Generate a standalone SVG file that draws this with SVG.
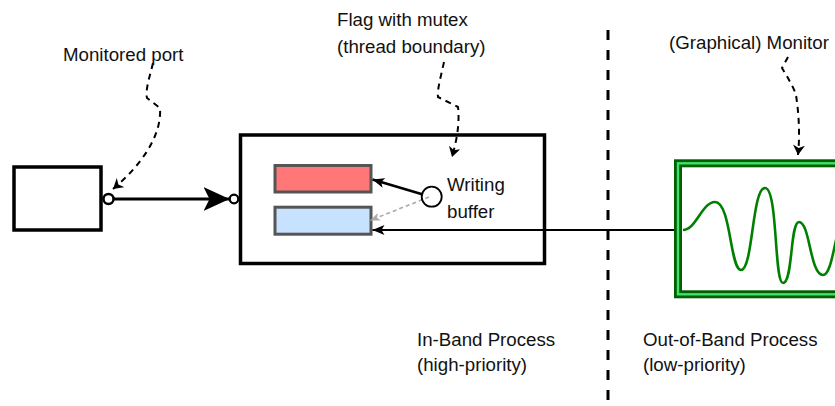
<svg xmlns="http://www.w3.org/2000/svg" width="835" height="406" viewBox="0 0 835 406">
<style>
text{font-family:"Liberation Sans",Arial,sans-serif;font-size:18.7px;fill:#111}
.box{fill:#fff;stroke:#000;stroke-width:3.5}
.buf{stroke:#555;stroke-width:3}
.callout{fill:none;stroke:#000;stroke-width:2;stroke-dasharray:6 5}
</style>
<defs>
<marker id="notch" viewBox="0 0 26 24" refX="26" refY="12" markerWidth="26" markerHeight="24" markerUnits="userSpaceOnUse" orient="auto">
<path d="M0,0 L26,12 L0,24 L6,12 Z" fill="#000"/>
</marker>
<marker id="sm" viewBox="0 0 12 10" refX="12" refY="5" markerWidth="12" markerHeight="10" markerUnits="userSpaceOnUse" orient="auto">
<path d="M0,0 L12,5 L0,10 L3,5 Z" fill="#000"/>
</marker>
<marker id="smg" viewBox="0 0 10 8" refX="10" refY="4" markerWidth="10" markerHeight="8" markerUnits="userSpaceOnUse" orient="auto">
<path d="M0,0 L10,4 L0,8 L2.5,4 Z" fill="#aaa"/>
</marker>
<marker id="co" viewBox="0 0 10 12" refX="10" refY="6" markerWidth="10" markerHeight="12" markerUnits="userSpaceOnUse" orient="auto">
<path d="M0,0 L10,6 L0,12 L3,6 Z" fill="#000"/>
</marker>
</defs>

<g id="divider">
<line x1="608" y1="30" x2="608" y2="406" stroke="#000" stroke-width="3" stroke-dasharray="10 10"/>
</g>

<g id="source">
<rect class="box" x="14" y="167" width="87" height="63" stroke-width="3"/>
</g>

<g id="inband">
<rect class="box" x="240.5" y="135" width="304" height="128.5"/>
</g>

<g id="buffer-red">
<rect class="buf" x="275" y="165.5" width="96" height="26.5" fill="#ff7777"/>
</g>
<g id="buffer-blue">
<rect class="buf" x="275" y="207.2" width="96" height="27" fill="#c6e2ff"/>
</g>

<g id="monitor">
<rect x="678" y="163.3" width="200" height="131" fill="#fff" stroke="#006000" stroke-width="8"/>
<rect x="678" y="163.3" width="200" height="131" fill="none" stroke="#3fe070" stroke-width="2.4"/>
<path d="M683,230 C696,230 702,202 715,202 C731,202 730,270 741,270 C753,270 752,188 765,188 C778,188 774,283 783,283 C793,283 790,222 799,222 C810,222 810,275 823,275 C830,275 833,252 837,236" fill="none" stroke="#008000" stroke-width="2.6"/>
</g>

<g id="connectors">
<line x1="113" y1="199" x2="229.5" y2="199" stroke="#000" stroke-width="3" marker-end="url(#notch)"/>
<line x1="423" y1="194.5" x2="372.5" y2="179.5" stroke="#000" stroke-width="2.5" marker-end="url(#sm)"/>
<line x1="429" y1="197" x2="370" y2="220.5" stroke="#aaa" stroke-width="1.6" stroke-dasharray="4 3" marker-end="url(#smg)"/>
<line x1="674" y1="230" x2="372.5" y2="230" stroke="#000" stroke-width="2" marker-end="url(#sm)"/>
<path class="callout" d="M153,63 C150,76 145,90 147,98 L160,108 C162,138 138,168 113,189" marker-end="url(#co)"/>
<path class="callout" d="M444,62 C441,76 437,90 438,97 L458,107 C460,125 456,143 452,157" marker-end="url(#co)"/>
<path class="callout" d="M788,57 L782,68 C788,78 794,88 796,95 C799,115 800,135 798,155" marker-end="url(#co)"/>
</g>

<g id="ports">
<circle cx="108.5" cy="199" r="5" fill="#fff" stroke="#000" stroke-width="2.5"/>
<circle cx="234" cy="199" r="4.3" fill="#fff" stroke="#000" stroke-width="2.3"/>
</g>

<g id="writer">
<circle cx="431.7" cy="196.7" r="10" fill="none" stroke="#000" stroke-width="1.8"/>
<text x="447" y="191">Writing</text>
<text x="447" y="218">buffer</text>
</g>

<g id="labels">
<text x="63" y="61">Monitored port</text>
<text x="337" y="26">Flag with mutex</text>
<text x="337" y="53">(thread boundary)</text>
<text x="669" y="49">(Graphical) Monitor</text>
<text x="417" y="346">In-Band Process</text>
<text x="417" y="371">(high-priority)</text>
<text x="643" y="346">Out-of-Band Process</text>
<text x="643" y="371">(low-priority)</text>
</g>
</svg>
